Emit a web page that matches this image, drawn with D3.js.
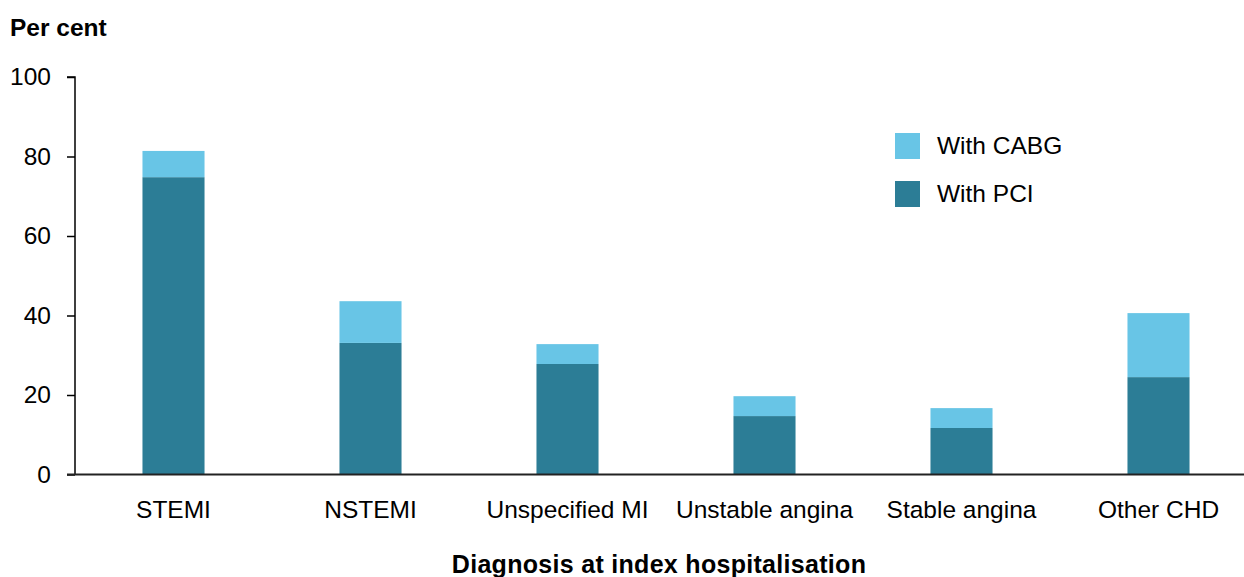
<!DOCTYPE html>
<html>
<head>
<meta charset="utf-8">
<script src="https://cdn.jsdelivr.net/npm/d3@7"></script>
<style>
  html, body { margin: 0; padding: 0; background: #fff; }
  svg { display: block; font-family: "Liberation Sans", Arial, sans-serif; }
</style>
</head>
<body>
<svg id="chart" width="1244" height="577"></svg>
<script>
const categories = ["STEMI", "NSTEMI", "Unspecified MI", "Unstable angina", "Stable angina", "Other CHD"];
const withPCI  = [74.8, 33.1, 27.8, 14.7, 11.7, 24.5];
const withCABG = [6.6, 10.5, 5.0, 5.0, 5.0, 16.1];
const seriesNames = ["With PCI", "With CABG"];
const yTicks = [0, 20, 40, 60, 80, 100];

const colors = { "With PCI": "#2C7D96", "With CABG": "#68C5E6" };

const svg = d3.select("#chart");
const x0 = 75, xEnd = 1257, yTop = 77, yBottom = 474.5;

const x = d3.scaleBand().domain(categories).range([x0, xEnd]).paddingInner(0.685).paddingOuter(0.3425);
const y = d3.scaleLinear().domain([0, 100]).range([yBottom, yTop]);

const rows = categories.map((c, i) => ({ cat: c, "With PCI": withPCI[i], "With CABG": withCABG[i] }));
const stacked = d3.stack().keys(seriesNames)(rows);

svg.append("g").selectAll("g").data(stacked).join("g")
  .attr("fill", d => colors[d.key])
  .selectAll("rect").data(d => d).join("rect")
  .attr("x", d => x(d.data.cat))
  .attr("width", x.bandwidth())
  .attr("y", d => y(d[1]))
  .attr("height", d => y(d[0]) - y(d[1]));

// y axis
const yAxis = svg.append("g").attr("transform", `translate(${x0},0)`)
  .call(d3.axisLeft(y).tickValues(yTicks).tickSize(8).tickPadding(16).tickFormat(d3.format("d")));
yAxis.select(".domain").attr("stroke", "#000").attr("stroke-width", 1.5).attr("d", `M-8,${yTop}H0V${yBottom}`);
yAxis.selectAll(".tick line").attr("stroke", "#000").attr("stroke-width", 1.5);
yAxis.selectAll(".tick text").attr("font-size", 24.5).attr("fill", "#000").attr("font-family", "Liberation Sans, Arial, sans-serif");

// x axis
const xAxis = svg.append("g").attr("transform", `translate(0,${yBottom})`)
  .call(d3.axisBottom(x).tickSize(0).tickPadding(0));
xAxis.select(".domain").attr("stroke", "#222").attr("stroke-width", 2).attr("d", `M67,0H1244`);
xAxis.selectAll(".tick text").attr("font-size", 24.5).attr("fill", "#000")
  .attr("font-family", "Liberation Sans, Arial, sans-serif")
  .attr("dy", null).attr("y", 43);

// titles
svg.append("text").attr("x", 10).attr("y", 36).attr("font-size", 24.5).attr("font-weight", "bold").text("Per cent");
svg.append("text").attr("x", 659).attr("y", 573).attr("text-anchor", "middle")
  .attr("font-size", 25).attr("font-weight", "bold").attr("letter-spacing", 0.3)
  .text("Diagnosis at index hospitalisation");

// legend
const legendItems = ["With CABG", "With PCI"];
const lg = svg.append("g").selectAll("g").data(legendItems).join("g")
  .attr("transform", (d, i) => `translate(895,${133 + i * 48})`);
lg.append("rect").attr("width", 25).attr("height", 26).attr("fill", d => colors[d]);
lg.append("text").attr("x", 42).attr("y", 20.5).attr("font-size", 24.5).attr("fill", "#000").text(d => d);
</script>
</body>
</html>
